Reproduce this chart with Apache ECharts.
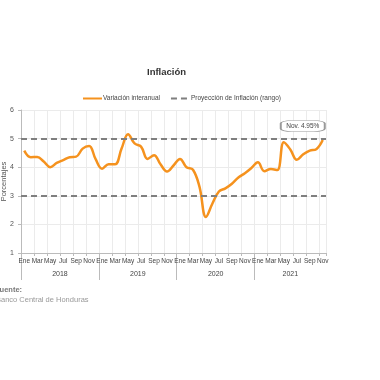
<!DOCTYPE html>
<html>
<head>
<meta charset="utf-8">
<script src="https://cdn.jsdelivr.net/npm/echarts@6/dist/echarts.min.js"></script>
<style>html,body{margin:0;padding:0;background:#fff;}#c{width:380px;height:380px;}</style>
</head>
<body>
<div id="c"></div>
<script>
const years = ['2018', '2019', '2020', '2021'];
const monthNames = ['Ene','Feb','Mar','Abr','May','Jun','Jul','Ago','Sep','Oct','Nov','Dic'];
const inflation2018 = [4.58, 4.35, 4.36, 4.20, 4.00, 4.15, 4.25, 4.35, 4.37, 4.65, 4.74, 4.28];
const inflation2019 = [3.95, 4.10, 4.10, 4.65, 5.15, 4.83, 4.72, 4.29, 4.42, 4.10, 3.85, 4.06];
const inflation2020 = [4.29, 4.00, 3.91, 3.32, 2.26, 2.73, 3.15, 3.26, 3.42, 3.64, 3.79, 3.97];
const inflation2021 = [4.17, 3.86, 3.94, 3.90, 4.87, 4.62, 4.26, 4.45, 4.58, 4.63, 4.95];
const projectionRange = [3, 5];
const yTicks = [1, 2, 3, 4, 5, 6];
const lastLabel = 'Nov. 4.95%';

const series1 = [inflation2018, inflation2019, inflation2020, inflation2021];
const categories = [];
const values = [];
series1.forEach((arr, yi) => arr.forEach((v, mi) => { categories.push(monthNames[mi] + ' ' + years[yi]); values.push(v); }));
const yearStarts = [];
{ let acc = 0; series1.forEach(a => { yearStarts.push(acc); acc += a.length; }); }
const nMonths = values.length;

const font = 'Liberation Sans, Arial, sans-serif';
const chart = echarts.init(document.getElementById('c'));
chart.setOption({
  animation: false,
  title: { text: 'Inflación', left: 142, top: 62, textStyle: { fontSize: 9.5, fontWeight: 'bold', color: '#333', fontFamily: font } },
  legend: {
    left: 77, top: 90, itemWidth: 19, itemHeight: 8, itemGap: 10,
    itemStyle: { opacity: 0 },
    textStyle: { fontSize: 6.5, color: '#444', fontFamily: font, padding: [0, 0, 0, -4] },
    data: ['Variación interanual', 'Proyección de Inflación (rango)']
  },
  grid: { left: 21, right: 54, top: 110, bottom: 127, outerBoundsMode: 'none', containLabel: false },
  xAxis: [
    {
      type: 'category', data: categories, boundaryGap: true,
      axisLine: { lineStyle: { color: '#bbb' } },
      axisTick: { show: true, length: 3, lineStyle: { color: '#bbb' } },
      axisLabel: { interval: 1, margin: 5, fontSize: 6.5, color: '#444', fontFamily: font, formatter: v => v.split(' ')[0] },
      splitLine: { show: true, lineStyle: { color: '#ebebeb' } }
    },
    {
      type: 'value', min: 0, max: nMonths, interval: 12, position: 'bottom',
      axisLine: { show: false },
      axisTick: { show: true, length: 27, lineStyle: { color: '#bbb' } },
      splitLine: { show: false },
      axisLabel: {
        margin: 18, showMaxLabel: false, fontSize: 7, color: '#444', fontFamily: font,
        formatter: v => {
          const i = yearStarts.indexOf(v);
          if (i < 0) return '';
          return '{y' + i + '|' + years[i] + '}';
        },
        rich: (() => {
          const r = {};
          const w = 305 / nMonths;
          years.forEach((y, i) => { const len = series1[i].length; r['y' + i] = { fontSize: 7, color: '#444', fontFamily: font, padding: [0, 0, 0, len * w] }; });
          return r;
        })()
      }
    }
  ],
  yAxis: {
    type: 'value', min: yTicks[0], max: yTicks[yTicks.length - 1], interval: 1,
    name: 'Porcentajes', nameLocation: 'middle', nameGap: 13, nameMoveOverlap: false,
    nameTextStyle: { fontSize: 7.5, color: '#555', fontFamily: font },
    axisLine: { show: true, lineStyle: { color: '#bbb' } },
    axisTick: { show: true, length: 3, lineStyle: { color: '#bbb' } },
    axisLabel: { fontSize: 7, color: '#555', margin: 7, fontFamily: font },
    splitLine: { show: true, lineStyle: { color: '#ebebeb' } }
  },
  series: [
    {
      name: 'Variación interanual', type: 'line', data: values, smooth: 0.4,
      symbol: 'none', lineStyle: { color: '#F5921E', width: 2.5 }, itemStyle: { color: '#F5921E' }, z: 3,
      markPoint: {
        symbol: 'roundRect', symbolSize: [44, 11], symbolOffset: [-20, -14], silent: true,
        itemStyle: { color: '#fff', borderColor: '#999', borderWidth: 1 },
        label: { show: true, position: 'inside', color: '#444', fontSize: 6.5, fontFamily: font, formatter: lastLabel },
        data: [{ coord: [nMonths - 1, values[nMonths - 1]] }]
      }
    },
    {
      name: 'Proyección de Inflación (rango)', type: 'line', data: [], symbol: 'none',
      lineStyle: { color: '#7f7f7f', width: 2, type: [6, 4] }, itemStyle: { color: '#7f7f7f' },
      markLine: {
        silent: true, symbol: 'none', label: { show: false },
        lineStyle: { color: '#7f7f7f', width: 2, type: [6, 4] },
        data: projectionRange.map(v => ({ yAxis: v }))
      }
    }
  ],
  graphic: [
    { type: 'text', left: -5, top: 286, style: { text: 'Fuente:', fontSize: 7.5, fontWeight: 'bold', fill: '#777', fontFamily: font } },
    { type: 'text', left: -4, top: 296, style: { text: 'Banco Central de Honduras', fontSize: 7.5, fill: '#999', fontFamily: font } }
  ]
});
</script>
</body>
</html>
